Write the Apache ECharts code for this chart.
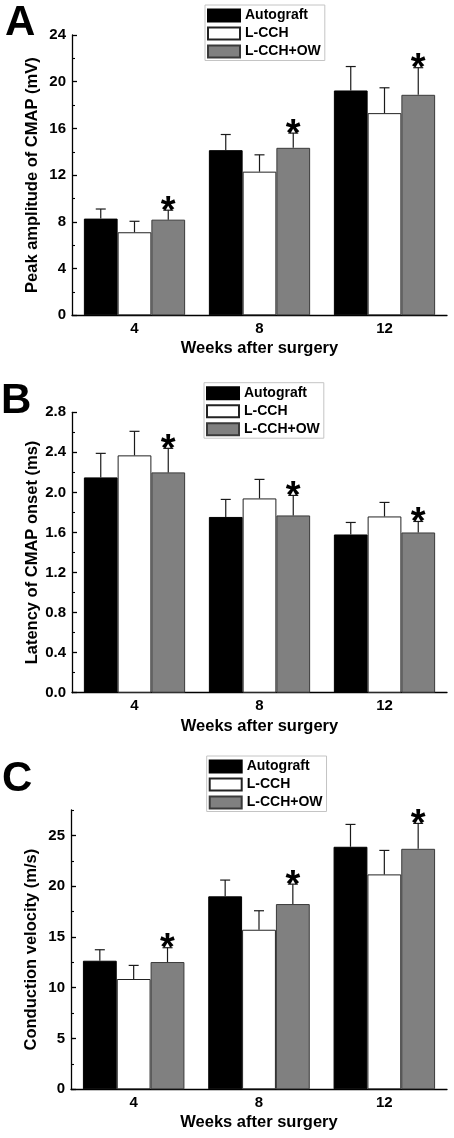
<!DOCTYPE html>
<html><head><meta charset="utf-8">
<script src="https://cdn.jsdelivr.net/npm/echarts@6/dist/echarts.min.js"></script>
<style>html,body{margin:0;padding:0;background:#fff}#c{width:454px;height:1138px}</style>
</head><body><div id="c"></div>
<script>
const weeks = ['4', '8', '12'];
const seriesNames = ['Autograft', 'L-CCH', 'L-CCH+OW'];
const panelLetters = ['A', 'B', 'C'];
const xTitle = 'Weeks after surgery';
const yTitles = ['Peak amplitude of CMAP (mV)', 'Latency of CMAP onset (ms)', 'Conduction velocity (m/s)'];

// Panel A: peak amplitude of CMAP (mV)
const ampAutograft = [8.28, 14.14, 19.25];
const ampLCCH = [7.11, 12.30, 17.31];
const ampLCCHOW = [8.19, 14.34, 18.88];
const ampAutograftErr = [0.82, 1.34, 2.05];
const ampLCCHErr = [0.94, 1.44, 2.17];
const ampLCCHOWErr = [0.81, 1.26, 2.32];
const ampTicks = [0, 4, 8, 12, 16, 20, 24];

// Panel B: latency of CMAP onset (ms)
const latAutograft = [2.15, 1.755, 1.58];
const latLCCH = [2.37, 1.94, 1.76];
const latLCCHOW = [2.20, 1.77, 1.60];
const latAutograftErr = [0.24, 0.175, 0.12];
const latLCCHErr = [0.24, 0.19, 0.14];
const latLCCHOWErr = [0.24, 0.20, 0.11];
const latTicks = [0, 0.4, 0.8, 1.2, 1.6, 2.0, 2.4, 2.8];

// Panel C: conduction velocity (m/s)
const velAutograft = [12.66, 19.0, 23.88];
const velLCCH = [10.86, 15.71, 21.16];
const velLCCHOW = [12.53, 18.24, 23.68];
const velAutograftErr = [1.08, 1.6, 2.2];
const velLCCHErr = [1.34, 1.87, 2.36];
const velLCCHOWErr = [1.41, 1.96, 2.5];
const velTicks = [0, 5, 10, 15, 20, 25];

const FF = '"Liberation Sans", Arial, Helvetica, sans-serif';
const fills = ['#000000', '#ffffff', '#808080'];
const borders = ['#000000', '#222222', '#3a3a3a'];
const CAT_GAP = 0.19;
const STAR_SIZE = 38;
const STAR_DY = 2;

const panels = [
  { means: [ampAutograft, ampLCCH, ampLCCHOW], errs: [ampAutograftErr, ampLCCHErr, ampLCCHOWErr], ticks: ampTicks, max: 24, interval: 4, dec: 0,
    grid: { left: 72, top: 35, width: 375, height: 280.3 }, legend: { left: 205, top: 5 }, letter: { x: 5, y: 23.5 } },
  { means: [latAutograft, latLCCH, latLCCHOW], errs: [latAutograftErr, latLCCHErr, latLCCHOWErr], ticks: latTicks, max: 2.8, interval: 0.4, dec: 1,
    grid: { left: 72, top: 412.3, width: 375, height: 280.4 }, legend: { left: 204, top: 382.7 }, letter: { x: 1, y: 401 } },
  { means: [velAutograft, velLCCH, velLCCHOW], errs: [velAutograftErr, velLCCHErr, velLCCHOWErr], ticks: velTicks, max: 27.5, interval: 5, dec: 0,
    grid: { left: 71, top: 810, width: 376, height: 279.3 }, legend: { left: 206.7, top: 756 }, letter: { x: 2, y: 779.5 } }
];

function errRender(k, withStar) {
  return function (params, api) {
    const ci = api.value(0), m = api.value(1), e = api.value(2);
    const base = api.coord([ci, m]);
    const top = api.coord([ci, m + e]);
    const band = api.size([1, 0])[0];
    const bw = band * (1 - CAT_GAP) / 3;
    const cx = base[0] + (k - 1) * bw;
    const st = { stroke: '#1a1a1a', lineWidth: 1.2 };
    const children = [
      { type: 'line', shape: { x1: cx, y1: base[1], x2: cx, y2: top[1] }, style: st },
      { type: 'line', shape: { x1: cx - 5, y1: top[1], x2: cx + 5, y2: top[1] }, style: st }
    ];
    if (withStar) {
      children.push({ type: 'text', x: cx, y: top[1] + STAR_DY,
        style: { text: '*', font: 'bold ' + STAR_SIZE + 'px ' + FF, fill: '#000', align: 'center', verticalAlign: 'middle' } });
    }
    return { type: 'group', children };
  };
}

const grids = [], xAxes = [], yAxes = [], legends = [], series = [], graphics = [];
const labelStyle = { fontFamily: FF, fontWeight: 'bold', fontSize: 15, color: '#000' };
const nameStyle = { fontFamily: FF, fontWeight: 'bold', fontSize: 16.5, color: '#000' };

panels.forEach((p, pi) => {
  grids.push(Object.assign({ containLabel: false }, p.grid));
  xAxes.push({
    type: 'category', gridIndex: pi, data: weeks,
    axisLine: { show: true, lineStyle: { color: '#000', width: 1.3 } },
    axisTick: { show: false },
    axisLabel: Object.assign({ margin: 6, interval: 0 }, labelStyle),
    name: xTitle, nameLocation: 'middle', nameGap: 25, nameMoveOverlap: false, nameTextStyle: nameStyle
  });
  const isC = pi === 2;
  yAxes.push({
    type: 'value', gridIndex: pi, min: 0, max: p.max, interval: p.interval, position: 'left',
    axisLine: { show: true, lineStyle: { color: '#000', width: 1.3 } },
    axisTick: { show: true, inside: true, length: 5, lineStyle: { color: '#000', width: 1.3 }, customValues: p.ticks },
    minorTick: { show: !isC, splitNumber: 2, length: 3, lineStyle: { color: '#000', width: 1.1 } },
    splitLine: { show: false },
    axisLabel: Object.assign({ margin: 6, customValues: p.ticks,
      formatter: v => Number(v).toFixed(p.dec) }, labelStyle),
    name: yTitles[pi], nameLocation: 'middle', nameGap: 31, nameMoveOverlap: false, nameTextStyle: nameStyle
  });
  legends.push({
    orient: 'vertical', left: p.legend.left, top: p.legend.top,
    itemWidth: 32, itemHeight: 12, itemGap: 4, padding: [3.5, 4, 2, 2],
    borderColor: '#c4c4c4', borderWidth: 1, backgroundColor: '#fff', borderRadius: 0,
    icon: 'rect', selectedMode: false, data: seriesNames,
    textStyle: { fontFamily: FF, fontWeight: 'bold', fontSize: 14, color: '#000', lineHeight: 12 }
  });
  graphics.push({ type: 'text', x: p.letter.x, y: p.letter.y,
    style: { text: panelLetters[pi], font: 'bold 42px ' + FF, fill: '#000', verticalAlign: 'middle', align: 'left' } });
});

// minor ticks for panel C (axis extends past last labelled tick)
yAxes.push({
  type: 'value', gridIndex: 2, min: 0, max: 27.5, interval: 2.5, position: 'left', offset: 0,
  axisLine: { show: false }, axisLabel: { show: false }, splitLine: { show: false },
  axisTick: { show: true, inside: true, length: 3, lineStyle: { color: '#000', width: 1.1 } }
});

panels.forEach((p, pi) => {
  for (let k = 0; k < 3; k++) {
    series.push({
      type: 'bar', name: seriesNames[k], xAxisIndex: pi, yAxisIndex: pi,
      data: p.means[k], barGap: '0%', barCategoryGap: (CAT_GAP * 100) + '%',
      itemStyle: { color: fills[k], borderColor: borders[k], borderWidth: 1 },
      emphasis: { disabled: true }, silent: true, z: 2
    });
  }
  for (let k = 0; k < 3; k++) {
    series.push({
      type: 'custom', xAxisIndex: pi, yAxisIndex: pi, silent: true, z: 5,
      data: p.means[k].map((m, i) => [i, m, p.errs[k][i]]),
      encode: { x: 0, y: 1 },
      renderItem: errRender(k, k === 2)
    });
  }
});

const chart = echarts.init(document.getElementById('c'), null, { renderer: 'canvas', width: 454, height: 1138 });
chart.setOption({
  animation: false, backgroundColor: '#fff',
  grid: grids, xAxis: xAxes, yAxis: yAxes, legend: legends, series, graphic: graphics
});
</script></body></html>
